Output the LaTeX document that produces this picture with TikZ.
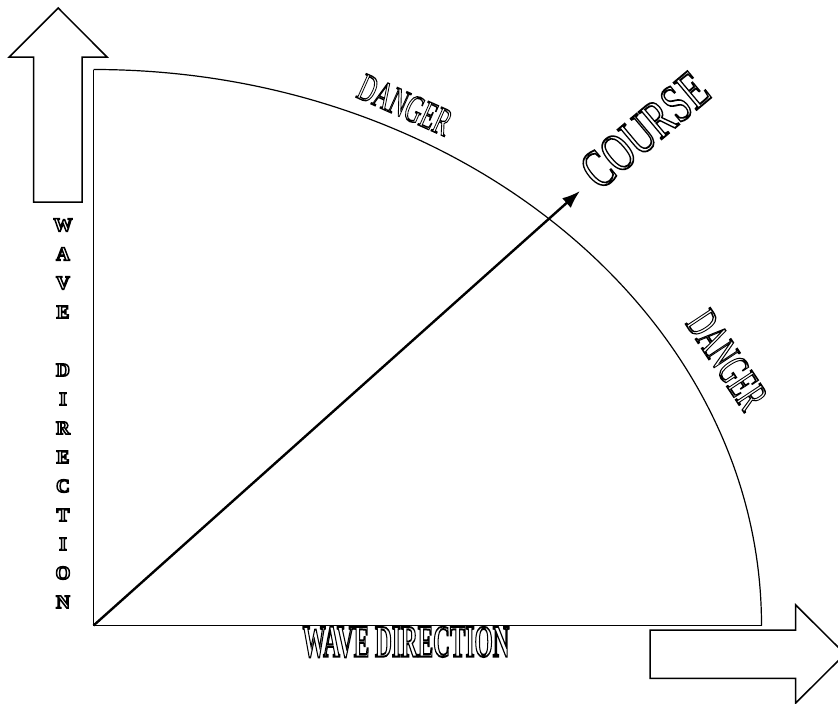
\documentclass[tikz,border=0pt]{standalone}
\usepackage{fontspec}
\setmainfont{Liberation Serif}
\usepackage{graphicx}
\usetikzlibrary{arrows.meta}
\newcommand{\strk}[2]{\special{pdf:literal direct 1 Tr #1 w}#2\special{pdf:literal direct 0 Tr}}
\newcommand{\otext}[3]{\resizebox{#1}{#2}{\fontsize{30}{30}\selectfont\strk{1.0}{#3}}}
\newcommand{\otextb}[3]{\resizebox{#1}{#2}{\fontsize{30}{30}\selectfont\bfseries\strk{1.3}{#3}}}
\begin{document}
\begin{tikzpicture}[x=1pt,y=-1pt,line join=miter,
  axis/.style={line width=1.2pt},
  bigarrow/.style={draw,line width=1.5pt,fill=white},
  lbl/.style={inner sep=0pt,outer sep=0pt},
  vl/.style={inner sep=0pt,font=\fontsize{19}{19}\selectfont\bfseries}]
\useasboundingbox (0,0) rectangle (838,704);
\fill[white] (0,0) rectangle (838,704);
% big arrows
\draw[bigarrow] (33.5,202) -- (33.5,57) -- (9.3,57) -- (58.2,8) -- (107,57) -- (82,57) -- (82,202) -- cycle;
\draw[bigarrow] (650,630) -- (795.7,630) -- (795.7,605) -- (845,654) -- (795.7,703) -- (795.7,678.3) -- (650,678.3) -- cycle;
% axes and arc
\coordinate (O) at (93.5,625.5);
\coordinate (Ytop) at (93.5,69.5);
\coordinate (Xend) at (761.5,625.5);
\coordinate (T) at (580,191);
\draw[axis] (Ytop) -- (O) -- (Xend);
\draw[axis] (Ytop) arc[start angle=-90,end angle=0,x radius=668,y radius=556];
% course arrow
\draw[line width=2.4pt,-{Latex[length=18pt,width=13pt]}] (O) -- (T);
% labels
\node[lbl,rotate=40] (course) at (645,130) {\otext{148pt}{36pt}{COURSE}};
\node[lbl,rotate=-24] (dangerA) at (405,105) {\otext{98pt}{26pt}{DANGER}};
\node[lbl,rotate=-56.5] (dangerB) at (727,360) {\otext{108pt}{30pt}{DANGER}};
\node[lbl] (wavex) at (406,642) {\otextb{207pt}{30pt}{WAVE DIRECTION}};
\foreach \l/\n/\k in {W/v1/0,A/v2/1,V/v3/2,E/v4/3,D/v5/5,I/v6/6,R/v7/7,E/v8/8,C/v9/9,T/v10/10,I/v11/11,O/v12/12,N/v13/13}
  \node[vl] (\n) at (63,225+29*\k) {\strk{1.5}{\l}};
\end{tikzpicture}
\end{document}
